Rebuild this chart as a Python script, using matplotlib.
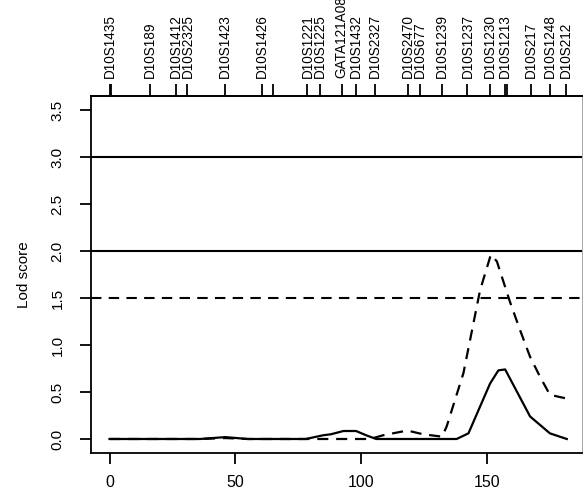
import matplotlib.pyplot as plt

plt.rcParams['font.family'] = ['Liberation Sans', 'DejaVu Sans']

# marker map along the chromosome (cM)
marker_pos = [0, 0.7, 16, 26.4, 31, 46, 60.5, 65, 78.7, 83.7, 92.3, 97.9, 105.6,
              118.8, 123.5, 132.3, 142.3, 151.3, 157.3, 158, 167.5, 175.1, 181.5]
marker_names = ['D10S1435', '', 'D10S189', 'D10S1412', 'D10S2325', 'D10S1423',
                'D10S1426', '', 'D10S1221', 'D10S1225', 'GATA121A08', 'D10S1432',
                'D10S2327', 'D10S2470', 'D10S677', 'D10S1239', 'D10S1237',
                'D10S1230', 'D10S1213', '', 'D10S217', 'D10S1248', 'D10S212']

# solid curve
solid_x = [0, 36, 46, 55, 78, 85, 88, 93, 98, 102, 106, 138, 142.7, 151.3,
           154.6, 157.3, 167.2, 175.1, 181.8]
solid_y = [0, 0, 0.02, 0, 0, 0.04, 0.05, 0.085, 0.085, 0.04, 0, 0, 0.06, 0.59,
           0.73, 0.74, 0.24, 0.06, 0]

# dashed curve
dash_x = [0, 36, 46, 55, 103.6, 108.8, 118.4, 124.7, 132.2, 134, 140.7, 147.3,
          151.6, 154, 159.2, 163.2, 167.2, 171.2, 175.1, 181.8]
dash_y = [0, 0, 0.01, 0, 0, 0.04, 0.09, 0.05, 0.025, 0.13, 0.70, 1.58,
          1.96, 1.89, 1.46, 1.16, 0.875, 0.66, 0.47, 0.43]

thresholds_solid = [2.0, 3.0]
thresholds_dash = [1.5]

fig = plt.figure(figsize=(5.83, 4.91), dpi=100, facecolor='white')
ax = fig.add_axes([0.1561, 0.0774, 0.8424, 0.7261])

dash_style = (0, (5, 3.5))
ax.plot(solid_x, solid_y, color='black', lw=1.6)
ax.plot(dash_x, dash_y, color='black', lw=1.6, linestyle=dash_style)
for t in thresholds_solid:
    ax.axhline(t, color='black', lw=1.5)
for t in thresholds_dash:
    ax.axhline(t, color='black', lw=1.5, linestyle=dash_style)

ax.set_xlim(-7.36, 187.9)
ax.set_ylim(-0.149, 3.644)
ax.set_xticks([0, 50, 100, 150])
ax.set_yticks([0, 0.5, 1.0, 1.5, 2.0, 2.5, 3.0, 3.5])
ax.set_yticklabels(['0.0', '0.5', '1.0', '1.5', '2.0', '2.5', '3.0', '3.5'],
                   rotation=90, va='center')
ax.tick_params(axis='x', length=8, width=1.3, pad=8, labelsize=11.5)
ax.tick_params(axis='y', length=8, width=1.3, pad=11, labelsize=11)
ax.set_ylabel('Lod score', fontsize=11, labelpad=14)
for s in ['left', 'bottom', 'top']:
    ax.spines[s].set_linewidth(1.3)
ax.spines['right'].set_linewidth(0.6)
ax.spines['right'].set_color('0.6')

top = ax.twiny()
top.set_xlim(ax.get_xlim())
top.set_xticks(marker_pos)
top.set_xticklabels(marker_names, rotation=90, fontsize=9.8)
top.tick_params(axis='x', length=8.5, width=1.3, pad=5)
for s in ['left', 'bottom', 'right']:
    top.spines[s].set_visible(False)
top.spines['top'].set_linewidth(1.3)

fig.savefig('out.png', dpi=100)
